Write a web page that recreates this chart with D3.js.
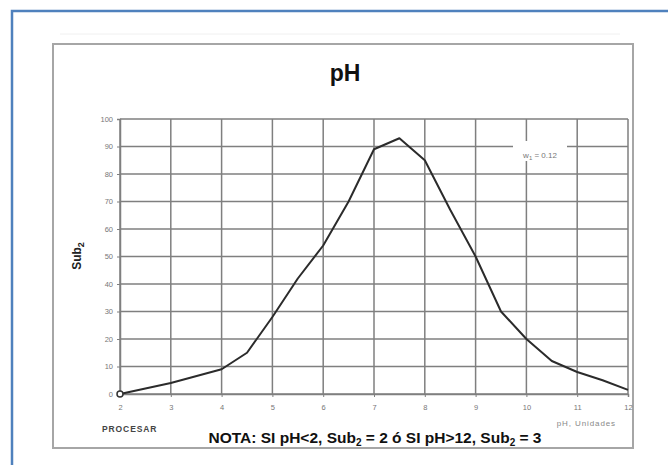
<!DOCTYPE html>
<html><head><meta charset="utf-8">
<script src="https://cdn.jsdelivr.net/npm/d3@7/dist/d3.min.js"></script>
<style>body{margin:0;background:#fff}svg{display:block}</style>
</head><body>
<svg id="c" width="668" height="465"></svg>
<script>
const phValues = [2, 3, 4, 4.5, 5, 5.5, 6, 6.5, 7, 7.5, 8, 8.5, 9, 9.5, 10, 10.5, 11, 11.5, 12];
const subValues = [0, 4, 9, 15, 28, 42, 54, 70, 89, 93, 85, 67, 50, 30, 20, 12, 8, 5, 1.5];
const xTicks = [2, 3, 4, 5, 6, 7, 8, 9, 10, 11, 12];
const yTicks = [0, 10, 20, 30, 40, 50, 60, 70, 80, 90, 100];

const svg = d3.select("#c");
const font = "'Liberation Sans', Arial, sans-serif";

// outer blue frame
svg.append("rect").attr("x", 12).attr("y", 11).attr("width", 700).attr("height", 500)
  .attr("fill", "none").attr("stroke", "#4f81bd").attr("stroke-width", 2.5);

// faint shadow line above box
svg.append("line").attr("x1", 60).attr("x2", 620).attr("y1", 34).attr("y2", 34)
  .attr("stroke", "#f0f0f0").attr("stroke-width", 1);

// chart box
svg.append("rect").attr("x", 53).attr("y", 44).attr("width", 580).attr("height", 404)
  .attr("fill", "#fff").attr("stroke", "#a6a6a6").attr("stroke-width", 2);

const x = d3.scaleLinear().domain([2, 12]).range([120, 628]);
const y = d3.scaleLinear().domain([0, 100]).range([394, 119]);

// gridlines
const grid = svg.append("g");
grid.selectAll("line.h").data(yTicks).join("line").attr("class", "h")
  .attr("x1", x(2)).attr("x2", x(12)).attr("y1", d => y(d)).attr("y2", d => y(d))
  .attr("stroke", "#7f7f7f").attr("stroke-width", 1.5);
grid.selectAll("line.v").data(xTicks).join("line").attr("class", "v")
  .attr("x1", d => x(d)).attr("x2", d => x(d)).attr("y1", y(0)).attr("y2", y(100))
  .attr("stroke", "#7f7f7f").attr("stroke-width", 1.5);

// axes
const yAxis = svg.append("g").attr("transform", `translate(${x(2)},0)`)
  .call(d3.axisLeft(y).tickValues(yTicks).tickSize(3).tickPadding(4));
const xAxis = svg.append("g").attr("transform", `translate(0,${y(0)})`)
  .call(d3.axisBottom(x).tickValues(xTicks).tickSize(3).tickPadding(8));
[yAxis, xAxis].forEach(a => {
  a.select(".domain").attr("stroke", "#7f7f7f").attr("stroke-width", 1.5);
  a.selectAll(".tick line").attr("stroke", "#7f7f7f");
  a.selectAll("text").attr("fill", "#777").attr("font-family", font).attr("font-size", 7.5);
});

// annotation w1
svg.append("rect").attr("x", 513).attr("y", 141).attr("width", 54).attr("height", 20).attr("fill", "#fff");
const ann = svg.append("text").attr("x", 540).attr("y", 158).attr("text-anchor", "middle")
  .attr("font-family", font).attr("font-size", 8).attr("fill", "#777");
ann.append("tspan").text("w");
ann.append("tspan").attr("font-size", 6).attr("dy", 2).text("1");
ann.append("tspan").attr("dy", -2).text(" = 0.12");

// line
const line = d3.line().x((d, i) => x(phValues[i])).y(d => y(d));
svg.append("path").datum(subValues).attr("d", line)
  .attr("fill", "none").attr("stroke", "#2b2b2b").attr("stroke-width", 2).attr("stroke-linejoin", "round");
svg.append("circle").attr("cx", x(phValues[0])).attr("cy", y(subValues[0])).attr("r", 3)
  .attr("fill", "#fff").attr("stroke", "#333").attr("stroke-width", 1.5);

// title
svg.append("text").attr("x", 345).attr("y", 81).attr("text-anchor", "middle")
  .attr("font-family", font).attr("font-weight", "bold").attr("font-size", 23).attr("fill", "#111").text("pH");

// y label
const yl = svg.append("text").attr("transform", "translate(81,256) rotate(-90)").attr("text-anchor", "middle")
  .attr("font-family", font).attr("font-weight", "bold").attr("font-size", 12).attr("fill", "#222");
yl.append("tspan").text("Sub");
yl.append("tspan").attr("font-size", 9).attr("dy", 3).text("2");

// x label
svg.append("text").attr("x", 616).attr("y", 426).attr("text-anchor", "end")
  .attr("font-family", font).attr("font-size", 8).attr("letter-spacing", 0.9).attr("fill", "#888").text("pH, Unidades");

// PROCESAR
svg.append("text").attr("x", 102).attr("y", 432)
  .attr("font-family", font).attr("font-weight", "bold").attr("font-size", 8.5).attr("letter-spacing", 0.9).attr("fill", "#444").text("PROCESAR");

// NOTA
const nota = svg.append("text").attr("x", 375).attr("y", 443).attr("text-anchor", "middle")
  .attr("font-family", font).attr("font-weight", "bold").attr("font-size", 15.5).attr("fill", "#111");
nota.append("tspan").text("NOTA: SI pH<2, Sub");
nota.append("tspan").attr("font-size", 10).attr("dy", 3).text("2");
nota.append("tspan").attr("dy", -3).text(" = 2 ó SI pH>12, Sub");
nota.append("tspan").attr("font-size", 10).attr("dy", 3).text("2");
nota.append("tspan").attr("dy", -3).text(" = 3");
</script>
</body></html>
